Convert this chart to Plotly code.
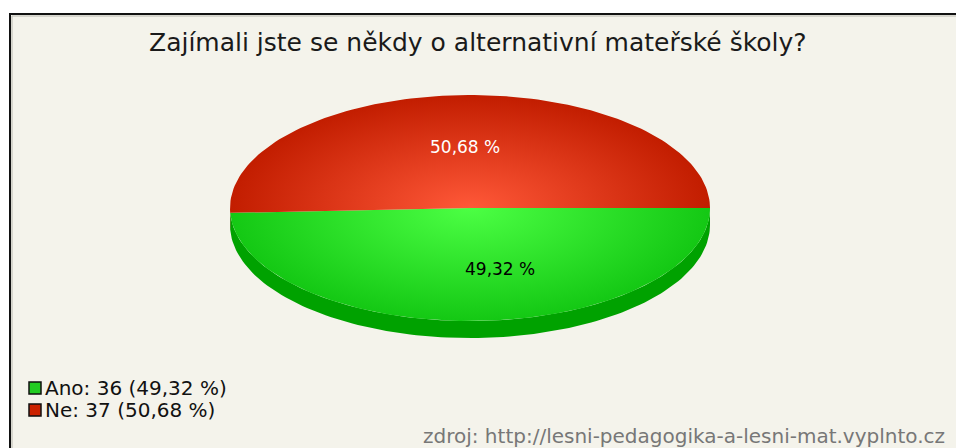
import numpy as np
import plotly.graph_objects as go

title = "Zajímali jste se někdy o alternativní mateřské školy?"
labels = ["Ano", "Ne"]
counts = [36, 37]
percents = ["49,32 %", "50,68 %"]
source = "zdroj: http://lesni-pedagogika-a-lesni-mat.vyplnto.cz"

top_colors = [("#4cff44", "#14c814"), ("#ff5838", "#c21d00")]
side_colors = ["#00a200", "#9c1800"]
legend_colors = ["#22cc22", "#cc2200"]
label_colors = ["#000000", "#ffffff"]
label_shift = [27, -2]

# ellipse geometry in pixels
cx, cy, rx, ry, depth = 470, 208, 240, 113, 17

fig = go.Figure()

fracs = np.array(counts) / sum(counts)
edges = np.concatenate([[0], np.cumsum(fracs)]) * 2 * np.pi


def arc(a, b, n=120):
    t = np.linspace(a, b, n)
    return cx + rx * np.cos(t), cy + ry * np.sin(t)


# side wall (only the front half, angles 0..pi, is visible)
for i in range(len(counts)):
    a, b = edges[i], edges[i + 1]
    lo, hi = max(a, 0), min(b, np.pi)
    if hi <= lo:
        continue
    x, y = arc(lo, hi)
    xs = np.concatenate([x, x[::-1]])
    ys = np.concatenate([y, y[::-1] + depth])
    fig.add_trace(go.Scatter(x=xs, y=ys, fill="toself", fillcolor=side_colors[i],
                             line=dict(width=0), mode="lines", hoverinfo="skip",
                             showlegend=False))

# top face with radial shading, bbox padded so the gradient centres on the pie
for i in range(len(counts)):
    a, b = edges[i], edges[i + 1]
    x, y = arc(a, b)
    xs = list(np.concatenate([[cx], x, [cx]]))
    ys = list(np.concatenate([[cy], y, [cy]]))
    xs += [None, cx - rx, cx - rx, None, cx + rx, cx + rx]
    ys += [None, cy - ry, cy - ry, None, cy + ry, cy + ry]
    fig.add_trace(go.Scatter(
        x=xs, y=ys, fill="toself", mode="lines", line=dict(width=0),
        fillgradient=dict(type="radial",
                          colorscale=[[0, top_colors[i][0]], [1, top_colors[i][1]]]),
        name=labels[i], hoverinfo="skip", showlegend=False))
    mid = (a + b) / 2
    fig.add_annotation(x=cx + 0.54 * rx * np.cos(mid), y=cy + 0.54 * ry * np.sin(mid),
                       text=percents[i], showarrow=False, xshift=label_shift[i],
                       font=dict(size=17, color=label_colors[i]))

# legend
for i in range(len(counts)):
    ly = 388 + 22 * i
    fig.add_trace(go.Scatter(x=[35], y=[ly], mode="markers", showlegend=False,
                             hoverinfo="skip",
                             marker=dict(symbol="square", size=12, color=legend_colors[i],
                                         line=dict(color="#111", width=1.5))))
    fig.add_annotation(x=43, y=ly, xanchor="left", showarrow=False,
                       text=f"{labels[i]}: {counts[i]} ({percents[i]})",
                       font=dict(size=20, color="#111"))

fig.add_annotation(x=478, y=42, text=title, showarrow=False,
                   font=dict(size=25, color="#1a1a1a"))
fig.add_annotation(x=947, y=436, xanchor="right", text=source, showarrow=False,
                   font=dict(size=20, color="#777777"))

# frame with a faint inner shadow
fig.add_shape(type="rect", x0=10, y0=14, x1=990, y1=480, layer="below",
              fillcolor="#f4f3eb", line=dict(color="#111", width=2))
fig.add_shape(type="line", x0=12, y0=16, x1=990, y1=16, layer="below",
              line=dict(color="#b8b8b0", width=1))
fig.add_shape(type="line", x0=12, y0=16, x1=12, y1=480, layer="below",
              line=dict(color="#b8b8b0", width=1))

fig.update_layout(
    width=956, height=448, margin=dict(l=0, r=0, t=0, b=0),
    paper_bgcolor="white", plot_bgcolor="white",
    font=dict(family="DejaVu Sans, Arial, sans-serif"),
    xaxis=dict(range=[0, 956], visible=False, fixedrange=True),
    yaxis=dict(range=[448, 0], visible=False, fixedrange=True),
)

fig.write_html("out.html", config={"displayModeBar": False},
               post_script="document.body.style.margin = '0';")
